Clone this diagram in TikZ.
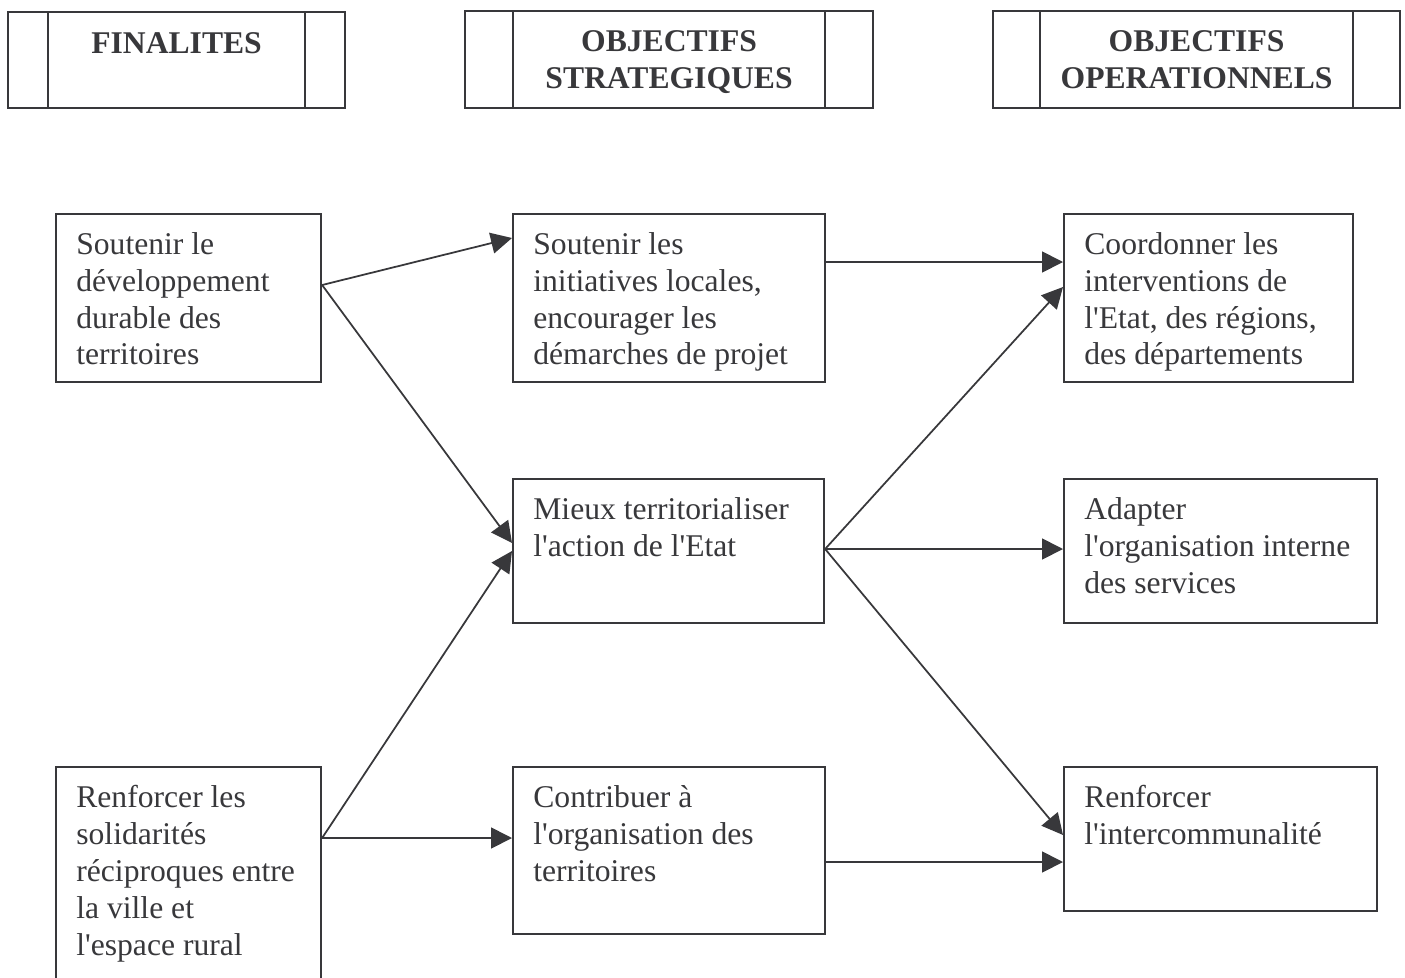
\documentclass[tikz,border=0pt]{standalone}
\usepackage{fontspec}
\setmainfont{Liberation Serif}[Ligatures=TeXOff]
\usepackage{tikz}
\usetikzlibrary{arrows.meta, calc}
\definecolor{ink}{HTML}{38383B}

\tikzset{
  cell/.style 2 args={draw=ink, line width=1.2pt, inner sep=0pt, anchor=north west,
                      minimum width=#1*0.02cm, minimum height=#2*0.02cm},
  celltext/.style={anchor=north west, align=left, inner sep=0pt, text=ink,
                   font=\fontsize{18}{21}\selectfont},
  headtext/.style={anchor=north, align=center, inner sep=0pt, text=ink,
                   font=\fontsize{18}{21}\selectfont\bfseries},
  link/.style={draw=ink, line width=1pt, -{Triangle[length=0.42cm, width=0.42cm]}},
}

\begin{document}
\begin{tikzpicture}[x=0.02cm, y=-0.02cm]
  \useasboundingbox (0,0) rectangle (1405,977);
  \clip (0,0) rectangle (1405,977);

  % en-tetes des colonnes
  \node[cell={337}{96}] (h1) at (7,11) {};
  \node[cell={408}{97}] (h2) at (464,10) {};
  \node[cell={407}{97}] (h3) at (992,10) {};
  \foreach \nm/\off in {h1/41, h2/49, h3/48}
    \draw[ink, line width=1.2pt]
      ($(\nm.north west)+(\off,0)$) -- ($(\nm.south west)+(\off,0)$)
      ($(\nm.north east)+(-\off,0)$) -- ($(\nm.south east)+(-\off,0)$);
  \node[headtext] (h1t) at ($(h1.north)+(0,21)$) {FINALITES};
  \node[headtext] (h2t) at ($(h2.north)+(0,20)$) {OBJECTIFS\\STRATEGIQUES};
  \node[headtext] (h3t) at ($(h3.north)+(0,20)$) {OBJECTIFS\\OPERATIONNELS};

  % finalites
  \node[cell={265}{168}] (a1) at (55,213) {};
  \node[cell={265}{240}] (a2) at (55,766) {};
  \node[celltext] (a1t) at ($(a1.north west)+(21,19)$)
    {Soutenir le\\développement\\durable des\\territoires};
  \node[celltext] (a2t) at ($(a2.north west)+(21,19)$)
    {Renforcer les\\solidarités\\réciproques entre\\la ville et\\l'espace rural};

  % objectifs strategiques
  \node[cell={312}{168}] (b1) at (512,213) {};
  \node[cell={311}{144}] (b2) at (512,478) {};
  \node[cell={312}{167}] (b3) at (512,766) {};
  \node[celltext] (b1t) at ($(b1.north west)+(21,19)$)
    {Soutenir les\\initiatives locales,\\encourager les\\démarches de projet};
  \node[celltext] (b2t) at ($(b2.north west)+(21,19)$)
    {Mieux territorialiser\\l'action de l'Etat};
  \node[celltext] (b3t) at ($(b3.north west)+(21,19)$)
    {Contribuer à\\l'organisation des\\territoires};

  % objectifs operationnels
  \node[cell={289}{168}] (c1) at (1063,213) {};
  \node[cell={313}{144}] (c2) at (1063,478) {};
  \node[cell={313}{144}] (c3) at (1063,766) {};
  \node[celltext] (c1t) at ($(c1.north west)+(21,19)$)
    {Coordonner les\\interventions de\\l'Etat, des régions,\\des départements};
  \node[celltext] (c2t) at ($(c2.north west)+(21,19)$)
    {Adapter\\l'organisation interne\\des services};
  \node[celltext] (c3t) at ($(c3.north west)+(21,19)$)
    {Renforcer\\l'intercommunalité};

  % liens
  \draw[link] ($(a1.north east)+(0,72)$) -- ($(b1.north west)+(0,25)$);
  \draw[link] ($(a1.north east)+(0,72)$) -- ($(b2.north west)+(0,65)$);
  \draw[link] ($(a2.north east)+(0,72)$) -- ($(b2.north west)+(0,73)$);
  \draw[link] ($(a2.north east)+(0,72)$) -- ($(b3.north west)+(0,72)$);
  \draw[link] ($(b1.north east)+(0,49)$) -- ($(c1.north west)+(0,49)$);
  \draw[link] ($(b2.north east)+(0,71)$) -- ($(c1.north west)+(0,74)$);
  \draw[link] ($(b2.north east)+(0,71)$) -- ($(c2.north west)+(0,71)$);
  \draw[link] ($(b2.north east)+(0,71)$) -- ($(c3.north west)+(0,69)$);
  \draw[link] ($(b3.north east)+(0,96)$) -- ($(c3.north west)+(0,96)$);
\end{tikzpicture}
\end{document}
